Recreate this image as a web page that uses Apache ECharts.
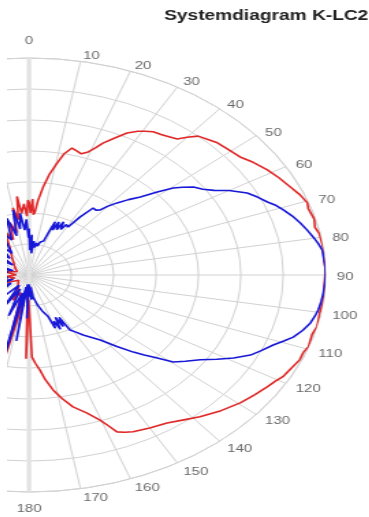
<!DOCTYPE html>
<html>
<head>
<meta charset="utf-8">
<script src="https://cdn.jsdelivr.net/npm/echarts@6/dist/echarts.min.js"></script>
<style>
  html, body { margin: 0; padding: 0; background: #fff; overflow: hidden; }
  body { width: 369px; height: 517px; position: relative; }
  /* the reference picture is stretched sideways, so the chart is too */
  #chart {
    position: absolute;
    left: 7px;
    top: 0;
    width: 265px;
    height: 517px;
    transform: scaleX(1.3667);
    transform-origin: 0 0;
  }
</style>
</head>
<body>
<div id="chart"></div>
<script>
const TITLE = 'Systemdiagram K-LC2'

// radius rings 0..7, angle every 10 degrees, labels only on the right half
const RADIUS_MAX = 7
const ANGLE_LABELS = [0, 10, 20, 30, 40, 50, 60, 70, 80, 90, 100, 110, 120, 130, 140, 150, 160, 170, 180]
const LABEL_R = 7.25

// red curve: angle (deg) and radius
const redAngles = [
  0, 1, 2, 3, 4, 5, 6.7, 8.5, 10.4, 12, 13.9, 16, 17.5, 19.4, 21, 22.3, 24.5, 26.8, 29, 30.5,
  32.4, 34.5, 36.5, 38.6, 40, 41.7, 44, 46.2, 49, 52.6, 55.5, 58.9, 62, 65.3, 68, 70.5, 72, 75,
  77.2, 79, 82.6, 85, 88.7, 92, 96.6, 100, 103.7, 106, 109.3, 111, 113.2, 116, 118.7, 120.5,
  122.7, 126, 129.6, 134, 138.6, 142, 145.7, 150, 154.1, 156, 157.7, 159, 160.3, 163, 166.3,
  169, 171.3, 173.5, 175.2, 177, 178.5, 179.5, 180.5, 181.5, 183, 186, 189, 192, 195, 200,
  205, 210, 220, 235, 248, 255, 265, 272, 280, 290, 305, 315, 325, 333, 338, 342, 345,
  348, 350, 352, 353.6, 355, 357, 358.5, 359.4
]
const redValues = [
  2.35, 2.0, 2.45, 1.95, 2.05, 2.4, 2.86, 3.3, 3.67, 4.0, 4.22, 4.15, 4.1, 4.21, 4.4, 4.6, 4.85, 5.13, 5.3, 5.38,
  5.47, 5.5, 5.55, 5.61, 5.8, 6.0, 6.08, 6.16, 6.2, 6.27, 6.42, 6.57, 6.68, 6.79, 6.9, 6.97, 6.93, 6.97,
  6.92, 6.98, 7.0, 6.98, 7.0, 6.98, 7.0, 6.97, 7.0, 6.95, 6.99, 6.94, 6.95, 6.88, 6.83, 6.75,
  6.68, 6.58, 6.47, 6.3, 6.1, 5.93, 5.78, 5.7, 5.62, 5.55, 5.47, 5.2, 4.97, 4.65, 4.38,
  4.05, 3.75, 3.4, 3.08, 2.85, 2.65, 2.7, 0.8, 2.7, 0.7, 0.5, 0.9, 2.6, 0.8, 0.6,
  0.9, 0.5, 0.4, 0.3, 0.8, 0.35, 0.55, 0.3, 0.6, 0.3, 0.4, 0.5, 0.7, 1.0, 1.5, 1.2, 1.75,
  1.4, 2.2, 1.8, 2.55, 2.0, 2.3, 1.9, 2.42
]

// blue curve: angle (deg) and radius
const blueAngles = [
  0, 1.5, 3, 4.5, 6, 8, 10, 12, 14, 16, 17.5, 19, 19.8, 21, 22.5, 24, 25.5, 27, 28.5, 30.8,
  32.8, 35, 37, 38.7, 40, 41.8, 44, 46.2, 48.5, 50.5, 52, 53.8, 56, 58, 60, 62.8, 65, 67.3, 69,
  70.7, 73, 75.3, 77.5, 79.7, 81.5, 83.4, 86, 88, 90, 92, 94.8, 97, 99.4, 101, 103.1, 105.5,
  107.8, 109.5, 111.4, 114, 116.3, 119, 121.5, 124.1, 127, 129.5, 131.5, 133.5, 135.3, 138,
  141.3, 144, 146.6, 149, 151.4, 152.5, 154, 155.5, 157, 158.5, 160.2, 161.5, 162.5, 165, 168,
  170, 172.4, 174, 176, 178, 180, 180.5, 182, 184, 186, 188, 190, 192.5, 195, 200, 205, 210, 215,
  222, 230, 238, 245, 250, 255, 260, 265, 270, 275, 280, 285, 290, 295, 300, 305, 310, 315,
  320, 325, 330, 335, 340, 344, 347, 349.8, 352, 354, 356, 358, 359.5
]
const blueValues = [
  1.5, 0.8, 1.3, 0.7, 1.1, 0.9, 1.05, 0.95, 1.1, 1.05, 1.15, 1.6, 1.82, 1.55, 1.85, 1.6, 1.9, 1.65, 1.85, 1.8,
  2.23, 2.64, 2.62, 2.69, 2.9, 3.12, 3.38, 3.64, 4.04, 4.41, 4.6, 4.81, 4.95, 5.15, 5.45, 5.79, 5.95, 6.1, 6.25,
  6.36, 6.5, 6.62, 6.72, 6.82, 6.9, 6.97, 6.98, 7.0, 7.0, 6.99, 6.97, 6.95, 6.92, 6.88, 6.82, 6.7,
  6.55, 6.38, 6.19, 6.0, 5.83, 5.52, 5.2, 4.88, 4.62, 4.41, 4.04, 3.75, 3.5, 3.1,
  2.69, 2.48, 2.32, 2.15, 2.02, 1.54, 1.85, 1.5, 1.9, 1.6, 1.82, 1.4, 1.42, 1.2, 1.0,
  0.85, 0.72, 0.4, 0.8, 0.35, 0.7, 0.3, 1.4, 0.4, 0.3, 2.15, 0.4, 3.0, 0.6, 1.4, 0.5, 1.2, 0.4,
  1.2, 1.0, 0.5, 1.1, 0.4, 1.2, 0.5, 1.1, 0.6, 1.3, 0.5, 1.0, 0.4, 1.2, 0.6, 1.1, 0.5, 1.3,
  0.7, 1.2, 0.8, 1.6, 1.2, 1.9, 1.3, 2.13, 1.5, 2.0, 1.45, 1.8, 1.2
]

// thick light 0-180 line through the centre
const axisAngles = [0, 0, 180]
const axisValues = [RADIUS_MAX, 0, RADIUS_MAX]

function toPolar(values, angles, close) {
  const out = values.map((v, i) => [v, angles[i]])
  if (close) out.push(out[0])
  return out
}

// angle labels sit just outside the ring, to the right of their spoke
const labelData = ANGLE_LABELS.map(a => {
  if (a === 0) return { value: [LABEL_R, a], label: { position: 'top', distance: 3 } }
  if (a === 180) return { value: [LABEL_R, a], label: { position: 'bottom', distance: 3 } }
  return { value: [LABEL_R, a], label: { position: 'right', distance: 0, offset: [0, 2] } }
})

const font = 'Liberation Sans, Arial, sans-serif'
const CENTER = [16.1, 275]
const RING_PX = 217
const LABEL_MAX = 7.5

const chart = echarts.init(document.getElementById('chart'))

chart.setOption({
  backgroundColor: '#fff',
  animation: false,

  title: {
    text: TITLE,
    left: 110,
    top: 4,
    textStyle: {
      fontFamily: font,
      fontSize: 14,
      fontWeight: 'bold',
      color: '#222'
    }
  },

  polar: [
    { center: CENTER, radius: RING_PX },
    // same centre, a bit wider, only used to place the angle labels
    { center: CENTER, radius: RING_PX * LABEL_MAX / RADIUS_MAX }
  ],

  angleAxis: [
    {
      polarIndex: 0,
      type: 'value',
      min: 0,
      max: 360,
      interval: 10,
      startAngle: 90,
      clockwise: true,
      axisLine: { lineStyle: { color: '#d2d2d2', width: 1 } },
      axisTick: { show: false },
      axisLabel: { show: false },
      splitLine: { show: true, lineStyle: { color: '#d2d2d2', width: 1 } }
    },
    {
      polarIndex: 1,
      type: 'value',
      min: 0,
      max: 360,
      startAngle: 90,
      clockwise: true,
      axisLine: { show: false },
      axisTick: { show: false },
      axisLabel: { show: false },
      splitLine: { show: false }
    }
  ],

  radiusAxis: [
    {
      polarIndex: 0,
      type: 'value',
      min: 0,
      max: RADIUS_MAX,
      interval: 1,
      axisLine: { show: false },
      axisTick: { show: false },
      axisLabel: { show: false },
      splitLine: { show: true, lineStyle: { color: '#d2d2d2', width: 1 } }
    },
    {
      polarIndex: 1,
      type: 'value',
      min: 0,
      max: LABEL_MAX,
      axisLine: { show: false },
      axisTick: { show: false },
      axisLabel: { show: false },
      splitLine: { show: false }
    }
  ],

  series: [
    {
      name: 'axis',
      type: 'line',
      coordinateSystem: 'polar',
      polarIndex: 0,
      silent: true,
      showSymbol: false,
      z: 1,
      lineStyle: { color: '#e2e2e2', width: 3.2 },
      data: toPolar(axisValues, axisAngles, false)
    },
    {
      name: 'red',
      type: 'line',
      coordinateSystem: 'polar',
      polarIndex: 0,
      showSymbol: false,
      z: 2,
      lineStyle: { color: '#e02828', width: 1.6 },
      data: toPolar(redValues, redAngles, true)
    },
    {
      name: 'blue',
      type: 'line',
      coordinateSystem: 'polar',
      polarIndex: 0,
      showSymbol: false,
      z: 3,
      lineStyle: { color: '#1818d8', width: 1.6 },
      data: toPolar(blueValues, blueAngles, true)
    },
    {
      name: 'labels',
      type: 'scatter',
      coordinateSystem: 'polar',
      polarIndex: 1,
      silent: true,
      symbolSize: 1,
      itemStyle: { color: 'rgba(0,0,0,0)' },
      z: 4,
      label: {
        show: true,
        color: '#444',
        fontFamily: font,
        fontSize: 11,
        formatter: p => String(p.value[1])
      },
      data: labelData
    }
  ]
})
</script>
</body>
</html>
